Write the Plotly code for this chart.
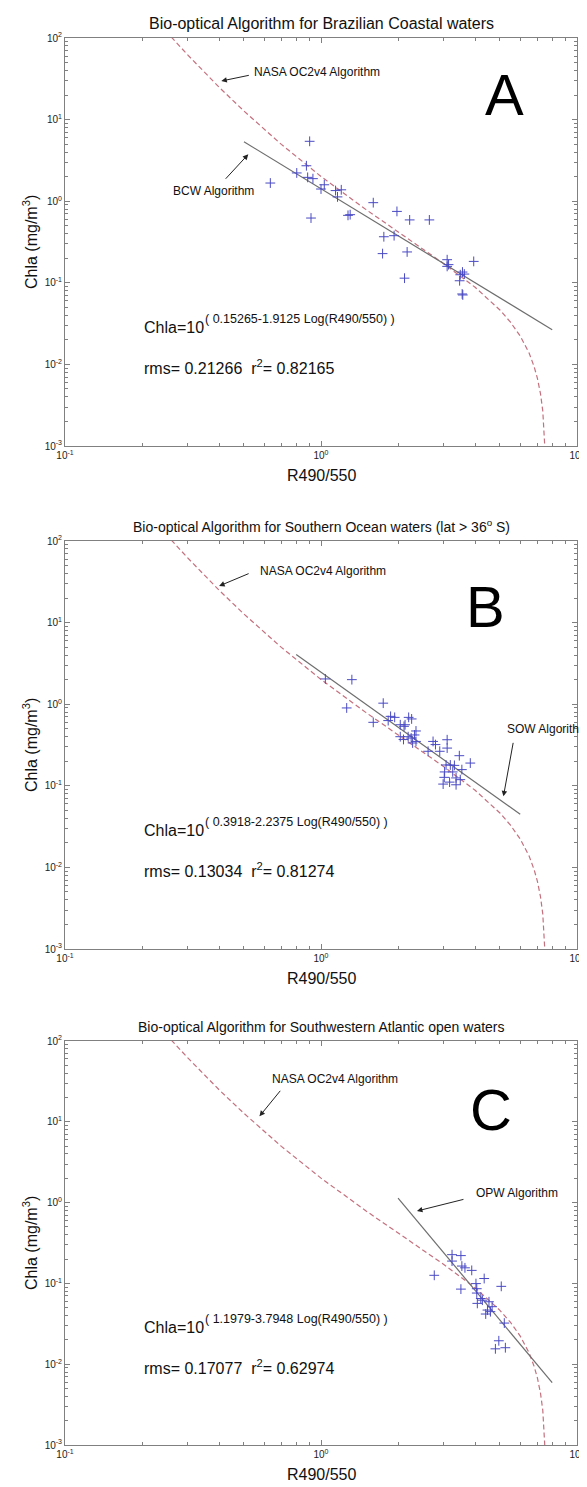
import math
import plotly.graph_objects as go

# ---------------- data ----------------
# NASA OC2v4 model curve (same in all panels)
nasa_ratio = [0.26, 0.27, 0.3, 0.4, 0.5, 0.7, 1.0, 1.5, 2.0, 3.0, 4.0, 5.0, 5.5, 6.0, 6.5, 6.8, 7.0, 7.2, 7.35, 7.45, 7.5, 7.53]
nasa_chla = [103, 90.4, 63.1, 24.9, 12.75, 4.97, 2.01, 0.789, 0.420, 0.174, 0.0881, 0.0464, 0.0329, 0.0223, 0.0138, 0.0094, 0.0068, 0.0044, 0.0027, 0.00155, 0.00101, 0.0007]

# Panel A - Brazilian coastal waters
bcw_ratio = [0.903, 0.634, 0.804, 0.877, 0.887, 0.930, 1.00, 1.03, 1.14, 1.20, 1.16, 0.914, 1.275, 1.30, 1.60, 1.98,
             2.22, 2.65, 1.76, 1.93, 1.74, 2.17, 2.12, 3.11, 3.11, 3.15, 3.57, 3.50, 3.63, 3.48, 3.56, 3.58, 3.95]
bcw_chla = [5.42, 1.67, 2.22, 2.72, 1.96, 1.89, 1.41, 1.59, 1.35, 1.38, 1.13, 0.622, 0.671, 0.684, 0.96, 0.75,
            0.59, 0.59, 0.367, 0.378, 0.228, 0.239, 0.114, 0.192, 0.159, 0.167, 0.1355, 0.1256, 0.128, 0.106, 0.073, 0.071, 0.183]
bcw_fit_ratio = [0.5, 8.0]
bcw_fit_chla = [5.35, 0.0266]

# Panel B - Southern Ocean waters
sow_ratio = [1.04, 1.32, 1.26, 1.75, 1.60, 1.87, 1.94, 1.83, 2.04, 2.11, 2.20, 2.26, 2.13, 2.35, 2.04, 2.10, 2.19,
             2.25, 2.32, 2.28, 2.35, 2.62, 2.74, 2.80, 2.91, 3.11, 3.11, 3.47, 3.83, 3.08, 3.20, 3.32, 3.55, 3.04,
             3.27, 3.03, 3.37, 3.50, 3.00, 3.18, 3.37]
sow_chla = [2.04, 2.0, 0.90, 1.03, 0.60, 0.71, 0.69, 0.63, 0.56, 0.536, 0.69, 0.66, 0.56, 0.47, 0.40, 0.37, 0.40,
            0.385, 0.42, 0.335, 0.35, 0.265, 0.35, 0.32, 0.265, 0.367, 0.29, 0.234, 0.19, 0.18, 0.18, 0.178, 0.158,
            0.148, 0.148, 0.127, 0.125, 0.119, 0.105, 0.111, 0.103]
sow_fit_ratio = [0.8, 6.0]
sow_fit_chla = [4.06, 0.0448]

# Panel C - Southwestern Atlantic open waters
opw_ratio = [3.25, 3.52, 3.25, 3.55, 3.65, 3.88, 2.77, 3.52, 4.03, 4.34, 5.06, 4.06, 4.06, 4.21, 4.27, 4.08, 4.53,
             4.47, 4.59, 4.40, 4.66, 5.20, 4.95, 4.80, 5.25]
opw_chla = [0.227, 0.221, 0.189, 0.164, 0.156, 0.145, 0.126, 0.085, 0.0995, 0.115, 0.092, 0.086, 0.076, 0.065,
            0.062, 0.0566, 0.0593, 0.0468, 0.0447, 0.0418, 0.0515, 0.0323, 0.0195, 0.0155, 0.016]
opw_fit_ratio = [2.0, 8.0]
opw_fit_chla = [1.14, 0.0059]

# tick labels
x_tickvals = [0.1, 1, 10]
x_ticktext = ["10<sup>-1</sup>", "10<sup>0</sup>", "10<sup>1</sup>"]
y_tickvals = [0.001, 0.01, 0.1, 1, 10, 100]
y_ticktext = ["10<sup>-3</sup>", "10<sup>-2</sup>", "10<sup>-1</sup>", "10<sup>0</sup>", "10<sup>1</sup>", "10<sup>2</sup>"]

titles = ["Bio-optical Algorithm for Brazilian Coastal waters",
          "Bio-optical Algorithm for Southern Ocean waters (lat > 36<sup>o</sup> S)",
          "Bio-optical Algorithm for Southwestern Atlantic open waters"]
panel_letters = ["A", "B", "C"]
eq_main = "Chla=10"
eq_exps = ["( 0.15265-1.9125 Log(R490/550) )",
           "( 0.3918-2.2375 Log(R490/550) )",
           "( 1.1979-3.7948 Log(R490/550) )"]
stats = ["rms= 0.21266\u00a0\u00a0r<sup>2</sup>= 0.82165",
         "rms= 0.13034\u00a0\u00a0r<sup>2</sup>= 0.81274",
         "rms= 0.17077\u00a0\u00a0r<sup>2</sup>= 0.62974"]
algo_names = ["BCW Algorithm", "SOW Algorithm", "OPW Algorithm"]
nasa_label = "NASA OC2v4 Algorithm"

# ---------------- styling ----------------
W, H = 587, 1487
ML, MR, MT, MB = 57, 10, 30, 50
ydomains = [[0.7100, 1.0], [0.3525, 0.6425], [0.0, 0.2871]]
title_sizes = [16, 14, 14]
letter_pos = [(0.858, 0.862), (0.821, 0.840), (0.833, 0.830)]

pt_color = "#4a4ac4"
fit_color = "#6e6e6e"
nasa_color = "#c4707e"
axis_color = "#808080"
font_family = "Arial, Liberation Sans, sans-serif"

# minor tick positions 2..9 in each decade (axis styling)
minor_x = [m * 10.0 ** d for d in range(-1, 1) for m in range(2, 10)]
minor_y = [m * 10.0 ** d for d in range(-3, 2) for m in range(2, 10)]

fig = go.Figure()

panels = [(bcw_ratio, bcw_chla, bcw_fit_ratio, bcw_fit_chla),
          (sow_ratio, sow_chla, sow_fit_ratio, sow_fit_chla),
          (opw_ratio, opw_chla, opw_fit_ratio, opw_fit_chla)]

L = math.log10
annotations = []
for i, (rx, cy, fx, fy) in enumerate(panels):
    n = "" if i == 0 else str(i + 1)
    xa, ya = "x" + n, "y" + n
    fig.add_trace(go.Scatter(x=nasa_ratio, y=nasa_chla, mode="lines", xaxis=xa, yaxis=ya,
                             line=dict(color=nasa_color, width=1.2, dash="5px,3px"), showlegend=False))
    fig.add_trace(go.Scatter(x=fx, y=fy, mode="lines", xaxis=xa, yaxis=ya,
                             line=dict(color=fit_color, width=1.2), showlegend=False))
    fig.add_trace(go.Scatter(x=rx, y=cy, mode="markers", xaxis=xa, yaxis=ya,
                             marker=dict(symbol="cross-thin", size=7, line=dict(color=pt_color, width=1)),
                             showlegend=False))
    ax_common = dict(type="log", showline=True, linecolor=axis_color, linewidth=1, mirror="allticks",
                     ticks="inside", ticklen=5, tickcolor=axis_color, showgrid=False, zeroline=False,
                     tickmode="array", tickfont=dict(size=10, color="#222"))
    fig.layout["xaxis" + n] = dict(ax_common, range=[-1, 1], domain=[0, 1], anchor=ya,
                                   tickvals=x_tickvals, ticktext=x_ticktext,
                                   minor=dict(ticks="inside", ticklen=3, tickcolor=axis_color,
                                              tickmode="array", tickvals=minor_x, showgrid=False))
    fig.layout["yaxis" + n] = dict(ax_common, range=[-3, 2], domain=ydomains[i], anchor=xa,
                                   tickvals=y_tickvals, ticktext=y_ticktext,
                                   minor=dict(ticks="inside", ticklen=3, tickcolor=axis_color,
                                              tickmode="array", tickvals=minor_y, showgrid=False))

    xd, yd = xa + " domain", ya + " domain"
    # title
    annotations.append(dict(xref=xd, yref=yd, x=0.5, y=1, xanchor="center", yanchor="bottom", yshift=4,
                            showarrow=False, text=titles[i], font=dict(size=title_sizes[i], color="#111")))
    # axis labels
    annotations.append(dict(xref=xd, yref=yd, x=0.5, y=0, xanchor="center", yanchor="middle", yshift=-29,
                            showarrow=False, text="R490/550", font=dict(size=16, color="#111")))
    annotations.append(dict(xref=xd, yref=yd, x=0, y=0.5, xanchor="center", yanchor="middle", xshift=-35,
                            showarrow=False, textangle=-90, text="Chla (mg/m<sup>3</sup>)",
                            font=dict(size=16, color="#111")))
    # big letter
    annotations.append(dict(xref=xd, yref=yd, x=letter_pos[i][0], y=letter_pos[i][1], xanchor="center",
                            yanchor="middle", showarrow=False, text=panel_letters[i],
                            font=dict(size=58, color="#000")))
    # equation and stats
    annotations.append(dict(xref=xa, yref=ya, x=L(0.199), y=-1.55, xanchor="left", yanchor="middle",
                            showarrow=False, text=eq_main, font=dict(size=16, color="#111")))
    annotations.append(dict(xref=xa, yref=ya, x=L(0.199), y=-1.55, xanchor="left", yanchor="middle",
                            xshift=61, yshift=9, showarrow=False, text=eq_exps[i],
                            font=dict(size=12.5, color="#111")))
    annotations.append(dict(xref=xa, yref=ya, x=L(0.199), y=-2.03, xanchor="left", yanchor="middle",
                            showarrow=False, text=stats[i], font=dict(size=16, color="#111")))

def label(xa, ya, x, y, text, size=12):
    return dict(xref=xa, yref=ya, x=L(x), y=L(y), xanchor="left", yanchor="middle", showarrow=False,
                text=text, font=dict(size=size, color="#111"))

def arrow(xa, ya, x, y, axp, ayp):
    return dict(xref=xa, yref=ya, x=L(x), y=L(y), ax=axp, ay=ayp, text="", showarrow=True,
                arrowhead=2, arrowsize=1.1, arrowwidth=1, arrowcolor="#222", standoff=0)

# Panel A annotations
annotations.append(label("x", "y", 0.536, 38.3, nasa_label))
annotations.append(arrow("x", "y", 0.408, 29.7, 29, -6))
annotations.append(label("x", "y", 0.26, 1.33, algo_names[0]))
annotations.append(arrow("x", "y", 0.52, 3.76, -24, 26))
# Panel B annotations
annotations.append(label("x2", "y2", 0.565, 43, nasa_label))
annotations.append(arrow("x2", "y2", 0.40, 28.1, 31, -13))
annotations.append(label("x2", "y2", 5.25, 0.50, algo_names[1]))
annotations.append(arrow("x2", "y2", 5.16, 0.0743, 10, -55))
# Panel C annotations
annotations.append(label("x3", "y3", 0.634, 34.2, nasa_label))
annotations.append(arrow("x3", "y3", 0.575, 11.7, 22, -27))
annotations.append(label("x3", "y3", 3.95, 1.32, algo_names[2]))
annotations.append(arrow("x3", "y3", 2.37, 0.787, 48, -12))

fig.update_layout(width=W, height=H, margin=dict(l=ML, r=MR, t=MT, b=MB),
                  paper_bgcolor="white", plot_bgcolor="white",
                  font=dict(family=font_family, color="#111"),
                  annotations=annotations, showlegend=False)

fig.write_html("out.html")
